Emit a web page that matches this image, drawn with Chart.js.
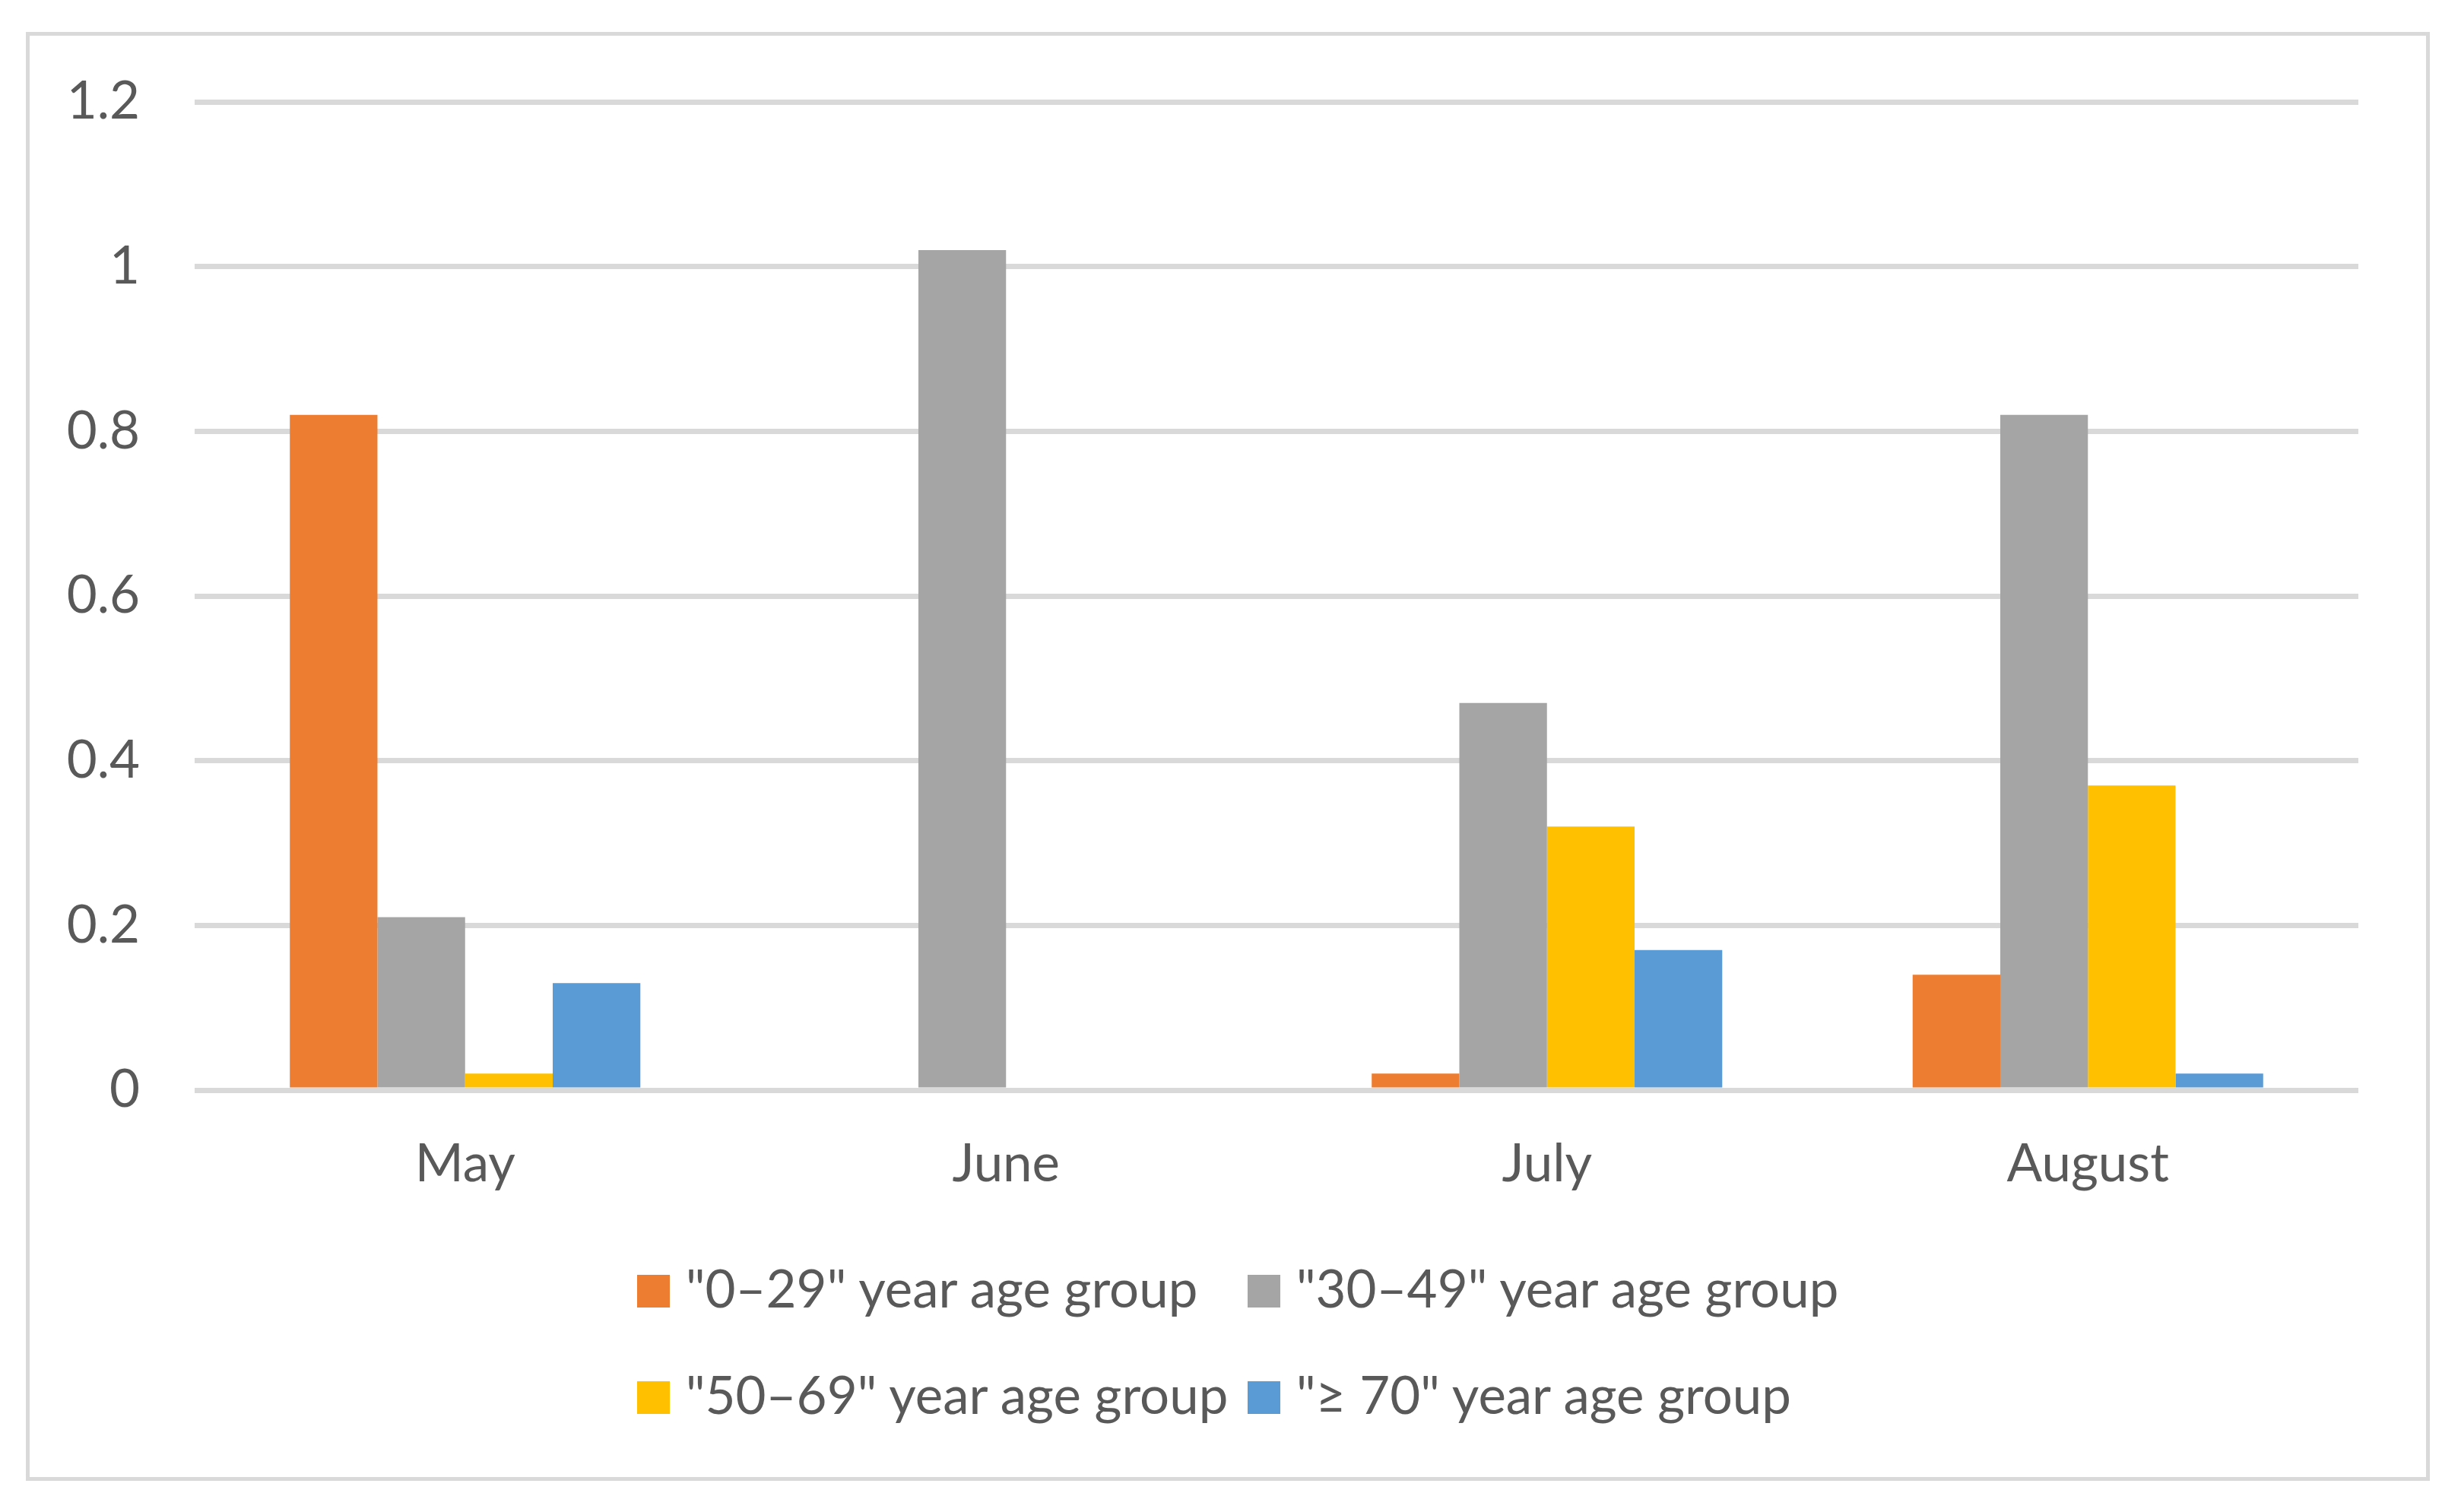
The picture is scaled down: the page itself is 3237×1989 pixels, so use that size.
<!DOCTYPE html>
<html>
<head>
<meta charset="utf-8">
<script src="https://cdn.jsdelivr.net/npm/chart.js@4"></script>
<style>
  html, body { margin: 0; padding: 0; background: #fff; width: 3237px; height: 1989px; overflow: hidden; }
  #frame { position: absolute; left: 34px; top: 42px; width: 3162px; height: 1906px; box-sizing: border-box; border: 5px solid #d9d9d9; }
  #chart { position: absolute; left: 39px; top: 47px; }
  #legend { position: absolute; left: 838px; top: 1653px; display: grid; grid-template-columns: 803px auto; row-gap: 57px;
            font-family: Lato, sans-serif; font-size: 69px; line-height: 82.8px; color: #595959; }
  .item { white-space: nowrap; }
  .box { display: inline-block; width: 43px; height: 43px; margin-right: 21px; }
</style>
</head>
<body>
<div id="frame"></div>
<canvas id="chart" width="3152" height="1560"></canvas>
<div id="legend"></div>
<script>
// months on the x axis
const months = ["May", "June", "July", "August"];

// series names, as in the legend
const groupNames = [
  '"0–29" year age group',
  '"30–49" year age group',
  '"50–69" year age group',
  '"≥ 70" year age group',
];

// values
const age0to29 = [0.82, 0, 0.02, 0.14];
const age30to49 = [0.21, 1.02, 0.47, 0.82];
const age50to69 = [0.02, 0, 0.32, 0.37];
const age70plus = [0.13, 0, 0.17, 0.02];

// y axis ticks
const yMin = 0;
const yMax = 1.2;
const yStep = 0.2;

const colors = ["#ED7D31", "#A5A5A5", "#FFC000", "#5B9BD5"];
const textColor = "#595959";
const gridColor = "#D9D9D9";

const seriesValues = [age0to29, age30to49, age50to69, age70plus];

// Legend as html, so it can sit in a 2 x 2 grid like the original
const htmlLegend = {
  id: "htmlLegend",
  afterUpdate(chart) {
    const box = document.getElementById("legend");
    box.innerHTML = "";
    const items = chart.options.plugins.legend.labels.generateLabels(chart);
    items.forEach((item) => {
      const div = document.createElement("div");
      div.className = "item";
      const sw = document.createElement("span");
      sw.className = "box";
      sw.style.background = item.fillStyle;
      div.appendChild(sw);
      div.appendChild(document.createTextNode(item.text));
      box.appendChild(div);
    });
  },
};

const ctx = document.getElementById("chart").getContext("2d");

const data = {
  labels: months,
  datasets: groupNames.map((name, i) => ({
    label: name,
    data: seriesValues[i],
    backgroundColor: colors[i],
    borderWidth: 0,
    barPercentage: 1,
    categoryPercentage: 0.648,
  })),
};

const config = {
  type: "bar",
  data: data,
  options: {
    responsive: false,
    devicePixelRatio: 1,
    animation: false,
    layout: {
      padding: { top: 87, right: 89, bottom: 0, left: 0 },
    },
    plugins: {
      legend: { display: false },
      tooltip: { enabled: false },
    },
    scales: {
      x: {
        grid: { display: false, drawTicks: false },
        border: { display: false },
        ticks: {
          color: textColor,
          padding: 56,
          font: { family: "Lato", size: 69 },
        },
        afterFit(scale) {
          scale.height = 173;
        },
      },
      y: {
        min: yMin,
        max: yMax,
        grid: { color: gridColor, lineWidth: 7, drawTicks: false },
        border: { display: false },
        ticks: {
          stepSize: yStep,
          color: textColor,
          padding: 72,
          font: { family: "Lato", size: 69 },
          callback: function (value) {
            return String(Math.round(value * 10) / 10);
          },
        },
        afterFit(scale) {
          scale.width = 217;
          // don't let the tick padding push the plot down
          scale.paddingTop = 0;
          scale.paddingBottom = 0;
        },
      },
    },
  },
  plugins: [htmlLegend],
};

const chart = new Chart(ctx, config);
</script>
</body>
</html>
